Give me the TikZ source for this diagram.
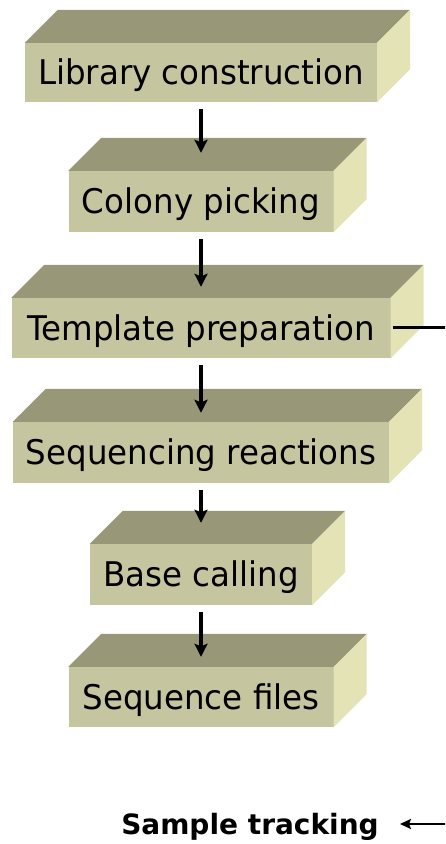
\documentclass[tikz,border=0pt]{standalone}
\usepackage{fontspec}
\usetikzlibrary{arrows.meta}
\newfontfamily\boxfont[FakeStretch=0.955]{DejaVu Sans}
\newfontfamily\stfont{DejaVu Sans Bold}
\definecolor{topc}{HTML}{989878}
\definecolor{frontc}{HTML}{C5C5A0}
\definecolor{sidec}{HTML}{E3E3B6}
\tikzset{
  front/.style={fill=frontc, inner sep=0pt, text height=24.8pt, text depth=0pt,
    font=\boxfont\fontsize{34}{38}\selectfont},
  flowarrow/.style={line width=4pt, -{Stealth[length=13pt,width=13pt,inset=2.5pt]}},
  trackline/.style={line width=3pt},
  trackarrow/.style={line width=2.5pt, -{Stealth[length=11pt,width=10pt,inset=2pt]}},
  sttext/.style={inner sep=0pt, text height=20.4pt, text depth=0pt,
    font=\stfont\fontsize{28}{32}\selectfont}
}
\newcommand\blk[6]{%
  \node[front, minimum width=#4pt, minimum height=#5pt] (#1) at (#2,#3) {#6};
  \fill[topc] (#1.north west) -- ++(33,33) -- ([shift={(33,33)}]#1.north east) -- (#1.north east) -- cycle;
  \fill[sidec] (#1.north east) -- ++(33,33) -- ([shift={(33,33)}]#1.south east) -- (#1.south east) -- cycle;
}
\begin{document}
\begin{tikzpicture}[x=1pt,y=1pt]
\useasboundingbox (0,0) rectangle (445,844);
\clip (0,0) rectangle (445,844);
\blk{b1}{201}{771.5}{352}{59}{Library construction}
\blk{b2}{201}{642.5}{265}{61}{Colony picking}
\blk{b3}{201}{516}{379}{60}{Template preparation}
\blk{b4}{201}{391.5}{376}{61}{Sequencing reactions}
\blk{b5}{201}{269.5}{222}{61}{Base calling}
\blk{b6}{201}{147}{265}{60}{Sequence files}
\node[sttext] (st) at (250,20) {Sample tracking};
\draw[flowarrow] ([yshift=-7pt]b1.south) -- ([yshift=18pt]b2.north);
\draw[flowarrow] ([yshift=-7pt]b2.south) -- ([yshift=11pt]b3.north);
\draw[flowarrow] ([yshift=-7pt]b3.south) -- ([yshift=9pt]b4.north);
\draw[flowarrow] ([yshift=-7pt]b4.south) -- ([yshift=21pt]b5.north);
\draw[flowarrow] ([yshift=-7pt]b5.south) -- ([yshift=10pt]b6.north);
\coordinate (far) at (470,0);
\draw[trackline] ([xshift=2pt]b3.east) -- (far |- b3.east) -- (far |- st.east);
\draw[trackarrow] (far |- st.east) -- ([xshift=21pt]st.east);
\end{tikzpicture}
\end{document}
